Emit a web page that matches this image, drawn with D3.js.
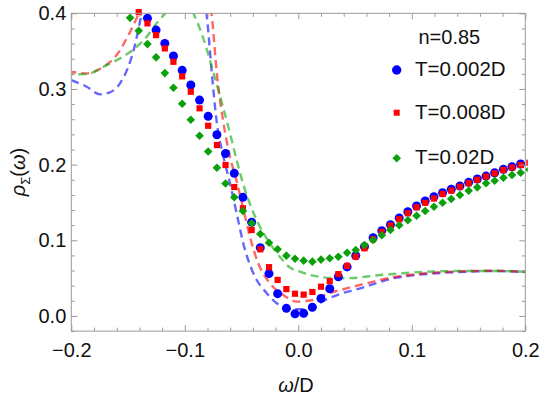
<!DOCTYPE html>
<html>
<head>
<meta charset="utf-8">
<script src="https://cdn.jsdelivr.net/npm/d3@7/dist/d3.min.js"></script>
<style>
  html, body { margin: 0; padding: 0; background: #fff; }
  svg { display: block; font-family: "Liberation Sans", Arial, Helvetica, sans-serif; }
</style>
</head>
<body>
<svg id="chart" width="542" height="403"></svg>
<script>
// ---- data ----
const omega = [-0.1482,-0.1406,-0.1329,-0.1253,-0.1176,-0.1100,-0.1023,-0.0947,-0.0870,-0.0794,
  -0.0717,-0.0641,-0.0564,-0.0488,-0.0411,-0.0335,-0.0258,-0.0182,-0.0105,-0.0029,
  0.0047,0.0124,0.0200,0.0277,0.0353,0.0430,0.0506,0.0583,0.0659,0.0736,
  0.0812,0.0889,0.0965,0.1042,0.1118,0.1195,0.1271,0.1348,0.1424,0.1501,
  0.1577,0.1654,0.1730,0.1807,0.1883,0.1959,0.2036];

const rhoT002 = [null,null,0.3933,0.3778,0.3602,0.3435,0.3246,0.3052,0.2853,0.2638,
  0.2395,0.2147,0.1885,0.1568,0.1238,0.0903,0.0560,0.0295,0.0101,0.0028,
  0.0035,0.0115,0.0231,0.0359,0.0518,0.0648,0.0797,0.0916,0.1035,0.1127,
  0.1206,0.1295,0.1378,0.1453,0.1519,0.1576,0.1629,0.1674,0.1717,0.1766,
  0.1810,0.1849,0.1893,0.1938,0.1972,0.2008,null];

const rhoT008 = [null,0.4015,0.3867,0.3712,0.3536,0.3359,0.3166,0.2963,0.2744,0.2514,
  0.2259,0.1995,0.1704,0.1423,0.1136,0.0881,0.0645,0.0476,0.0355,0.0294,
  0.0282,0.0317,0.0387,0.0460,0.0553,0.0662,0.0783,0.0894,0.1013,0.1110,
  0.1195,0.1278,0.1357,0.1436,0.1495,0.1552,0.1612,0.1656,0.1708,0.1755,
  0.1800,0.1843,0.1885,0.1929,0.1962,0.1995,0.2025];

const rhoT02 = [0.3940,0.3769,0.3593,0.3418,0.3210,0.3016,0.2804,0.2593,0.2382,0.2174,
  0.1959,0.1750,0.1568,0.1387,0.1225,0.1083,0.0968,0.0881,0.0797,0.0757,
  0.0731,0.0718,0.0745,0.0762,0.0783,0.0836,0.0872,0.0938,0.1004,0.1066,
  0.1136,0.1198,0.1264,0.1325,0.1387,0.1444,0.1497,0.1546,0.1598,0.1655,
  0.1700,0.1753,0.1787,0.1827,0.1863,0.1893,0.1935];

// dashed reference curves
const dashOmegaT002 = [-0.2,-0.1864,-0.1747,-0.166,-0.1571,-0.1498,-0.1439,-0.1395,-0.135,-0.11,
  -0.084,-0.0807,-0.0763,-0.0719,-0.0661,-0.0602,-0.0543,-0.0485,-0.0396,-0.0278,
  -0.019,-0.0102,0.0015,0.0132,0.022,0.0367,0.0544,0.0837,0.1131,0.1425,0.1718,0.2];
const dashRhoT002 = [0.3117,0.303,0.2929,0.2955,0.3074,0.3293,0.358,0.3888,0.42,0.5,
  0.43,0.3976,0.3227,0.2567,0.2115,0.1753,0.1357,0.096,0.0564,0.03,
  0.0168,0.0101,0.0088,0.0123,0.0198,0.029,0.0365,0.0498,0.0555,0.0581,0.0594,0.0581];

const dashOmegaT008 = [-0.2,-0.1864,-0.1718,-0.16,-0.1512,-0.1439,-0.1395,-0.132,-0.11,-0.085,
  -0.0763,-0.0719,-0.0661,-0.0609,-0.0543,-0.0485,-0.0426,-0.0353,-0.025,-0.0132,
  -0.0014,0.0044,0.0132,0.0249,0.0396,0.0544,0.0837,0.1131,0.1425,0.1718,0.2];
const dashRhoT008 = [0.3227,0.3206,0.3293,0.3448,0.3668,0.3888,0.404,0.44,0.55,0.45,
  0.3976,0.3227,0.2567,0.215,0.178,0.142,0.1048,0.0696,0.0432,0.0277,
  0.0189,0.0195,0.0211,0.029,0.0353,0.041,0.0511,0.0564,0.059,0.0598,0.0585];

const dashOmegaT02 = [-0.2,-0.1864,-0.1718,-0.1571,-0.1424,-0.1336,-0.1248,-0.116,-0.104,-0.0925,
  -0.0837,-0.0749,-0.0661,-0.0587,-0.0543,-0.0485,-0.0426,-0.0352,-0.0264,-0.0161,
  -0.0073,0.0015,0.0103,0.022,0.0367,0.0515,0.072,0.0837,0.1131,0.1425,0.1718,0.2];
const dashRhoT02 = [0.3195,0.3196,0.3293,0.3404,0.3557,0.369,0.3867,0.402,0.425,0.4,
  0.367,0.322,0.275,0.2325,0.206,0.174,0.148,0.122,0.099,0.078,
  0.064,0.0585,0.0542,0.0511,0.0498,0.0506,0.0542,0.0555,0.0585,0.0594,0.0594,0.0585];

const xMajorTicks = [-0.2,-0.1,0.0,0.1,0.2];
const xTickLabels = ["\u22120.2","\u22120.1","0.0","0.1","0.2"];
const xMinorTicks = [-0.18,-0.16,-0.14,-0.12,-0.08,-0.06,-0.04,-0.02,0.02,0.04,0.06,0.08,0.12,0.14,0.16,0.18];
const yMajorTicks = [0.0,0.1,0.2,0.3,0.4];
const yTickLabels = ["0.0","0.1","0.2","0.3","0.4"];
const yMinorTicks = [-0.02,0.02,0.04,0.06,0.08,0.12,0.14,0.16,0.18,0.22,0.24,0.26,0.28,0.32,0.34,0.36,0.38];

const seriesNames = ["T=0.002D","T=0.008D","T=0.02D"];
const legendTitle = "n=0.85";

// ---- layout ----
const svg = d3.select("#chart");
const L = 71.3, R = 525.3, T = 13.3, B = 331.1;
const x = d3.scaleLinear().domain([-0.2, 0.2]).range([L, R]);
const y = d3.scaleLinear().domain([-0.02, 0.4]).range([B, T]);

const frameColor = "#9a9a9a";
const colBlue = "#0000ff", colRed = "#ff0000", colGreen = "#0aa00a";

const defs = svg.append("defs");
defs.append("clipPath").attr("id", "plotclip")
  .append("rect").attr("x", L).attr("y", T).attr("width", R - L).attr("height", B - T);
defs.append("clipPath").attr("id", "markclip")
  .append("rect").attr("x", L - 6).attr("y", T - 6).attr("width", R - L + 8.5).attr("height", B - T + 12);

// ---- dashed curves ----
const lineGen = d3.line().x(d => x(d[0])).y(d => y(d[1])).curve(d3.curveMonotoneX);
const dashData = [
  {o: dashOmegaT002, r: dashRhoT002, c: "rgba(0,0,255,0.6)", off: 0},
  {o: dashOmegaT008, r: dashRhoT008, c: "rgba(255,0,0,0.6)", off: 3},
  {o: dashOmegaT02,  r: dashRhoT02,  c: "rgba(20,170,20,0.62)", off: 6}
];
const gLines = svg.append("g").attr("clip-path", "url(#plotclip)");
dashData.forEach(s => {
  gLines.append("path")
    .datum(s.o.map((w, i) => [w, s.r[i]]))
    .attr("d", lineGen)
    .attr("fill", "none")
    .attr("stroke", s.c)
    .attr("stroke-width", 2.4)
    .attr("stroke-dasharray", "8,5")
    .attr("stroke-dashoffset", s.off);
});

// ---- markers ----
const gMarks = svg.append("g").attr("clip-path", "url(#markclip)");
function pts(arr) { return omega.map((w, i) => [w, arr[i]]).filter(d => d[1] !== null); }

gMarks.append("g").selectAll("circle").data(pts(rhoT002)).join("circle")
  .attr("cx", d => x(d[0])).attr("cy", d => y(d[1])).attr("r", 4.5).attr("fill", colBlue);

const sq = 6.2;
gMarks.append("g").selectAll("rect").data(pts(rhoT008)).join("rect")
  .attr("x", d => x(d[0]) - sq / 2).attr("y", d => y(d[1]) - sq / 2)
  .attr("width", sq).attr("height", sq).attr("fill", colRed);

const dm = 4.3;
const diamond = (cx, cy) => `M${cx},${cy - dm}L${cx + dm},${cy}L${cx},${cy + dm}L${cx - dm},${cy}Z`;
gMarks.append("g").selectAll("path").data(pts(rhoT02)).join("path")
  .attr("d", d => diamond(x(d[0]), y(d[1]))).attr("fill", colGreen);

// ---- frame & ticks ----
function styleAxis(g) {
  g.select(".domain").remove();
  g.selectAll("line").attr("stroke", frameColor).attr("stroke-width", 1);
  g.selectAll("text").attr("fill", "#111").style("font-size", "20px")
    .style("font-family", '"Liberation Sans", Arial, sans-serif');
}
// bottom
svg.append("g").attr("transform", `translate(0,${B})`)
  .call(d3.axisBottom(x).tickValues(xMajorTicks).tickSize(-6).tickPadding(12)
    .tickFormat((d, i) => xTickLabels[i])).call(styleAxis);
svg.append("g").attr("transform", `translate(0,${B})`)
  .call(d3.axisBottom(x).tickValues(xMinorTicks).tickSize(-3.5).tickFormat("")).call(styleAxis);
// top
svg.append("g").attr("transform", `translate(0,${T})`)
  .call(d3.axisTop(x).tickValues(xMajorTicks).tickSize(-6).tickFormat("")).call(styleAxis);
svg.append("g").attr("transform", `translate(0,${T})`)
  .call(d3.axisTop(x).tickValues(xMinorTicks).tickSize(-3.5).tickFormat("")).call(styleAxis);
// left
svg.append("g").attr("transform", `translate(${L},0)`)
  .call(d3.axisLeft(y).tickValues(yMajorTicks).tickSize(-6).tickPadding(5)
    .tickFormat((d, i) => yTickLabels[i])).call(styleAxis);
svg.append("g").attr("transform", `translate(${L},0)`)
  .call(d3.axisLeft(y).tickValues(yMinorTicks).tickSize(-3.5).tickFormat("")).call(styleAxis);
// right
svg.append("g").attr("transform", `translate(${R},0)`)
  .call(d3.axisRight(y).tickValues(yMajorTicks).tickSize(-6).tickFormat("")).call(styleAxis);
svg.append("g").attr("transform", `translate(${R},0)`)
  .call(d3.axisRight(y).tickValues(yMinorTicks).tickSize(-3.5).tickFormat("")).call(styleAxis);

svg.append("rect").attr("x", L).attr("y", T).attr("width", R - L).attr("height", B - T)
  .attr("fill", "none").attr("stroke", frameColor).attr("stroke-width", 1);

// ---- axis labels ----
const xl = svg.append("text").attr("x", 296).attr("y", 392).attr("text-anchor", "middle")
  .style("font-size", "20px").attr("fill", "#111");
xl.append("tspan").style("font-style", "italic").text("\u03c9");
xl.append("tspan").text("/D");

const yl = svg.append("text").attr("transform", "translate(25,172) rotate(-90)")
  .attr("text-anchor", "middle").style("font-size", "20px").attr("fill", "#111");
yl.append("tspan").style("font-style", "italic").text("\u03c1");
yl.append("tspan").attr("dy", 5).style("font-size", "13px").text("\u03a3");
yl.append("tspan").attr("dy", -5).text("(");
yl.append("tspan").style("font-style", "italic").text("\u03c9");
yl.append("tspan").text(")");

// ---- legend ----
svg.append("text").attr("x", 418.5).attr("y", 43.5).style("font-size", "20px").attr("fill", "#111").text(legendTitle);
const legY = [76, 119.3, 164];
const legMY = [70, 112.7, 158.3];
const lx = 396.7;
svg.append("circle").attr("cx", lx).attr("cy", legMY[0]).attr("r", 4.7).attr("fill", colBlue);
svg.append("rect").attr("x", lx - 3).attr("y", legMY[1] - 3).attr("width", 6).attr("height", 6).attr("fill", colRed);
svg.append("path").attr("d", diamond(lx, legMY[2])).attr("fill", colGreen);
seriesNames.forEach((n, i) => {
  svg.append("text").attr("x", 415).attr("y", legY[i]).style("font-size", "20.5px").attr("fill", "#111").text(n);
});
</script>
</body>
</html>
